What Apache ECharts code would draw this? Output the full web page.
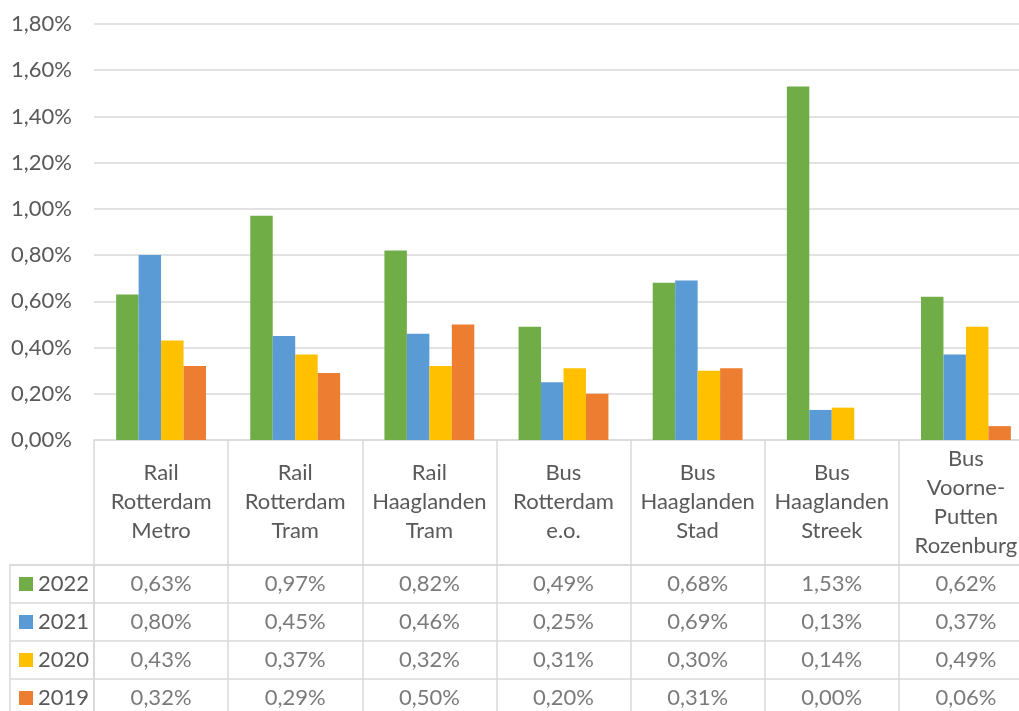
<!DOCTYPE html>
<html><head><meta charset="utf-8">
<script src="https://cdn.jsdelivr.net/npm/echarts@6/dist/echarts.min.js"></script>
<style>html,body{margin:0;padding:0;background:#fff;overflow:hidden}#c{width:1040px;height:725px}</style>
</head><body><div id="c"></div>
<script>
const categories = ['Rail\nRotterdam\nMetro','Rail\nRotterdam\nTram','Rail\nHaaglanden\nTram','Bus\nRotterdam\ne.o.','Bus\nHaaglanden\nStad','Bus\nHaaglanden\nStreek','Bus\nVoorne-\nPutten\nRozenburg'];
const years = ['2022','2021','2020','2019'];
const v2022 = [0.63,0.97,0.82,0.49,0.68,1.53,0.62];
const v2021 = [0.80,0.45,0.46,0.25,0.69,0.13,0.37];
const v2020 = [0.43,0.37,0.32,0.31,0.30,0.14,0.49];
const v2019 = [0.32,0.29,0.50,0.20,0.31,0.00,0.06];
const yTicks = {min:0, max:1.8, interval:0.2};
const colors = ['#70AD47','#5B9BD5','#FFC000','#ED7D31'];

const seriesVals = [v2022,v2021,v2020,v2019];
const FONT = 'Lato';
const FS = 22;
const TXT = '#595959';
const LINE = '#d9d9d9';
const fmt = v => v.toFixed(2).replace('.', ',') + '%';

const series = [];
seriesVals.forEach((vals, k) => {
  series.push({
    name: years[k], type: 'bar', xAxisIndex: 0, yAxisIndex: 0,
    data: vals, barGap: '0%', barCategoryGap: '33%',
    itemStyle: {color: colors[k]}
  });
});
seriesVals.forEach((vals, k) => {
  series.push({
    name: 't' + years[k], type: 'scatter', xAxisIndex: 1, yAxisIndex: 1,
    symbolSize: 1, itemStyle: {color: 'transparent'},
    data: vals.map((v, i) => [i, k, v]),
    label: {show: true, position: 'inside', formatter: p => fmt(p.value[2]),
      fontFamily: FONT, fontSize: FS, color: TXT}
  });
});

const legends = years.map((y, k) => ({
  data: [y], orient: 'horizontal', left: 19, top: 573 + 38 * k,
  icon: 'rect', itemWidth: 14, itemHeight: 14, padding: 0,
  textStyle: {fontFamily: FONT, fontSize: FS, color: TXT, lineHeight: 22, padding: [0, 0, 0, 0]},
  selectedMode: false
}));

const chart = echarts.init(document.getElementById('c'));
chart.setOption({
  animation: false,
  color: colors,
  textStyle: {fontFamily: FONT},
  legend: legends,
  grid: [
    {left: 94, top: 24, width: 939, height: 416},
    {left: 94, top: 565, width: 939, height: 152, show: true, borderColor: LINE, borderWidth: 1.5},
    {left: 10, top: 565, width: 84, height: 152, show: true, borderColor: LINE, borderWidth: 1.5}
  ],
  xAxis: [
    {type: 'category', gridIndex: 0, data: categories,
      axisLine: {lineStyle: {color: LINE, width: 1.5}},
      axisTick: {show: true, length: 125, interval: 0, lineStyle: {color: LINE, width: 1.5}},
      axisLabel: {interval: 0, margin: 62, verticalAlign: 'middle', align: 'center',
        fontFamily: FONT, fontSize: FS, color: TXT, lineHeight: 29}},
    {type: 'category', gridIndex: 1, data: categories,
      axisLine: {show: false}, axisTick: {show: false}, axisLabel: {show: false},
      splitLine: {show: true, interval: 0, lineStyle: {color: LINE, width: 1.5}}},
    {type: 'value', gridIndex: 2, min: 0, max: 1, show: false}
  ],
  yAxis: [
    {type: 'value', gridIndex: 0, min: yTicks.min, max: yTicks.max, interval: yTicks.interval,
      axisLine: {show: false}, axisTick: {show: false},
      axisLabel: {formatter: fmt, margin: 22, fontFamily: FONT, fontSize: FS, color: TXT},
      splitLine: {lineStyle: {color: LINE, width: 1.5}}},
    {type: 'category', gridIndex: 1, data: years, inverse: true,
      axisLine: {show: false}, axisTick: {show: false}, axisLabel: {show: false},
      splitLine: {show: true, interval: 0, lineStyle: {color: LINE, width: 1.5}}},
    {type: 'category', gridIndex: 2, data: years, inverse: true,
      axisLine: {show: false}, axisTick: {show: false}, axisLabel: {show: false},
      splitLine: {show: true, interval: 0, lineStyle: {color: LINE, width: 1.5}}}
  ],
  series: series
});
</script></body></html>
